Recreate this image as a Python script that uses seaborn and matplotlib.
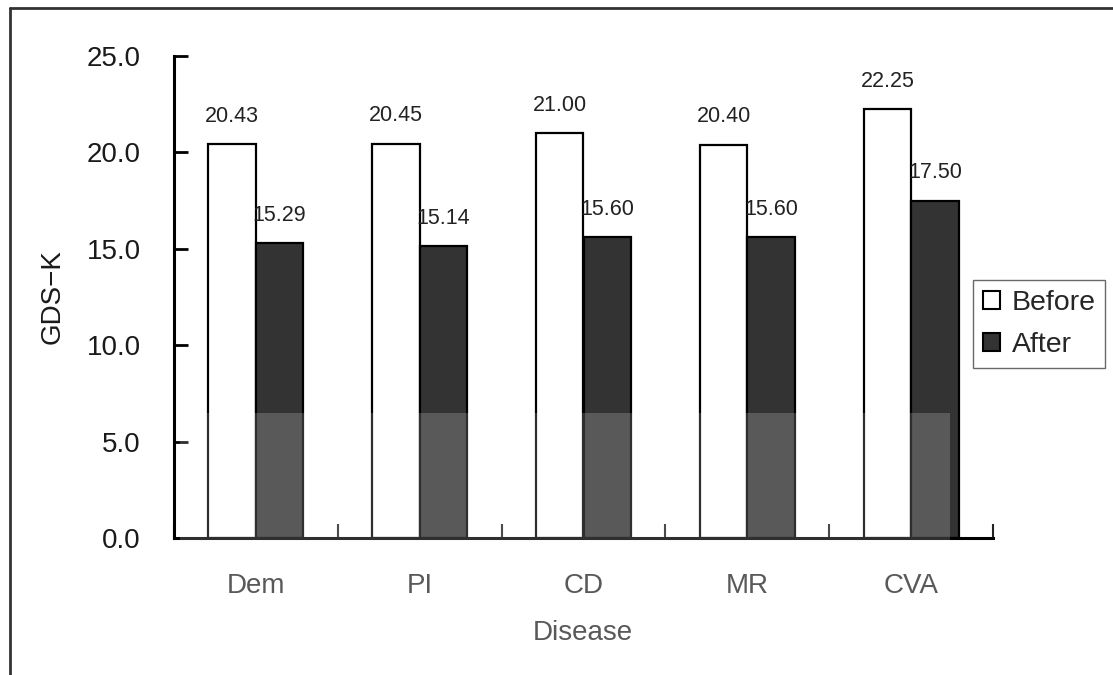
import matplotlib
matplotlib.use("Agg")
import matplotlib.pyplot as plt
from matplotlib.lines import Line2D
from matplotlib.patches import Patch, Rectangle
import pandas as pd
import seaborn as sns

# Mean GDS-K scores per disease group, before and after the program
diseases = ["Dem", "PI", "CD", "MR", "CVA"]
before = [20.43, 20.45, 21.00, 20.40, 22.25]
after = [15.29, 15.14, 15.60, 15.60, 17.50]
y_ticks = [0, 5, 10, 15, 20, 25]

df = pd.DataFrame({
    "Disease": diseases * 2,
    "Score": before + after,
    "Phase": ["Before"] * len(diseases) + ["After"] * len(diseases),
})

sns.set_theme(style="white")
plt.rcParams["font.family"] = ["Liberation Sans", "DejaVu Sans"]

fig = plt.figure(figsize=(11.13, 6.75), dpi=100)
ax = fig.add_axes([174 / 1113, 1 - 538 / 675, 819 / 1113, 482 / 675])

palette = {"Before": "white", "After": "#333333"}
sns.barplot(data=df, x="Disease", y="Score", hue="Phase", order=diseases,
            hue_order=["Before", "After"], palette=palette, width=0.58,
            edgecolor="black", linewidth=1.6, saturation=1, ax=ax, legend=False)

# Value labels above each bar
for container in ax.containers:
    for bar in container:
        h = bar.get_height()
        ax.annotate(f"{h:.2f}", (bar.get_x() + bar.get_width() / 2, h),
                    xytext=(0, 12.5), textcoords="offset points",
                    ha="center", va="bottom", fontsize=15.5, color="#222222")

ax.set_ylim(0, 25)
ax.set_xlim(-0.5, len(diseases) - 0.5)
ax.set_yticks(y_ticks)
ax.set_yticklabels([f"{v:.1f}" for v in y_ticks])
ax.set_xticks(range(len(diseases)))
ax.set_xticklabels(diseases)
ax.set_xticks([i - 0.5 for i in range(len(diseases) + 1)], minor=True)

ax.tick_params(axis="y", direction="in", length=10, width=2, pad=24,
               labelsize=20, labelcolor="#1a1a1a", color="black", left=True)
ax.tick_params(axis="x", which="major", length=0, pad=25, labelsize=20,
               labelcolor="#333333")
ax.tick_params(axis="x", which="minor", direction="in", length=10, width=1.5,
               color="#222222", bottom=True)

for side in ["top", "right"]:
    ax.spines[side].set_visible(False)
for side in ["left", "bottom"]:
    ax.spines[side].set_color("black")
    ax.spines[side].set_linewidth(2.2)

ax.set_xlabel("")
ax.set_ylabel("")
fig.text(583 / 1113, 1 - 633 / 675, "Disease", ha="center", va="center",
         fontsize=20, color="#333333")
fig.text(53 / 1113, 1 - 297 / 675, "GDS−K", ha="center", va="center",
         rotation=90, fontsize=20, color="#1a1a1a")

handles = [Patch(facecolor="white", edgecolor="black", linewidth=1.5, label="Before"),
           Patch(facecolor="#333333", edgecolor="black", linewidth=1.5, label="After")]
leg = fig.legend(handles=handles, loc="upper left",
                 bbox_to_anchor=(973 / 1113, 1 - 280 / 675),
                 fontsize=20.5, frameon=True, fancybox=False, borderpad=0.35,
                 handlelength=0.6, handleheight=0.6, handletextpad=0.4,
                 labelspacing=0.55, borderaxespad=0)
leg.get_frame().set_edgecolor("#444444")
leg.get_frame().set_linewidth(1.0)

# Page frame lines along the top and left
fig.add_artist(Line2D([10 / 1113, 1], [1 - 8 / 675, 1 - 8 / 675],
                      color="#333333", linewidth=2, transform=fig.transFigure))
fig.add_artist(Line2D([10 / 1113, 10 / 1113], [0, 1 - 8 / 675],
                      color="#333333", linewidth=2, transform=fig.transFigure))

# Faint light wash over the lower part of the plot
fig.add_artist(Rectangle((180 / 1113, 0), (950 - 180) / 1113, 1 - 413 / 675,
                         transform=fig.transFigure, facecolor="white",
                         alpha=0.19, edgecolor="none", zorder=10))

fig.savefig("out.png", dpi=100)
